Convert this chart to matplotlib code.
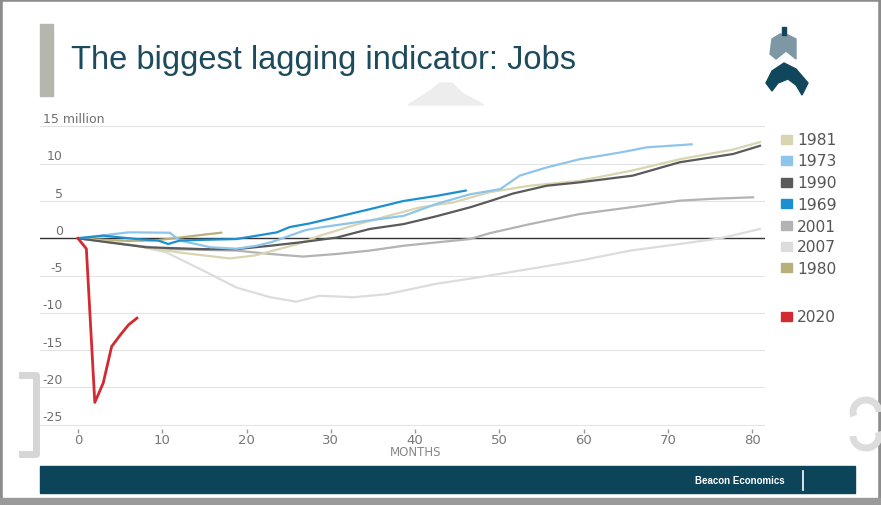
import numpy as np
import matplotlib.pyplot as plt
from matplotlib.patches import Rectangle, Polygon, Arc

# months since the start of each recession, change in payrolls (millions)
m1981 = [0, 4, 8, 12, 15, 18, 21, 24, 26, 28.7, 32.6, 36.6, 40.6, 44.5, 48.9, 53.6, 59.5, 65.8, 71.4, 77.7, 80.9]
v1981 = [0, -0.5, -1.2, -1.9, -2.3, -2.7, -2.3, -1.4, -0.8, 0.35, 1.7, 2.95, 4.15, 4.8, 6.2, 7.05, 7.7, 9.1, 10.6, 11.9, 12.9]

m1973 = [0, 3, 6, 10.9, 12.1, 15.7, 18.8, 21.2, 23, 25, 27, 29, 34.6, 38.6, 42.5, 46.5, 50.1, 52.4, 55.6, 59.5, 64.3, 67.5, 72.8]
v1973 = [0, 0.4, 0.8, 0.75, -0.3, -1.2, -1.4, -1.0, -0.5, 0.3, 1.1, 1.5, 2.4, 3.0, 4.6, 5.9, 6.6, 8.4, 9.5, 10.6, 11.5, 12.2, 12.6]

m1990 = [0, 4, 8.1, 14.9, 18.8, 22.8, 26.7, 30.7, 34.6, 38.6, 42.5, 46.5, 48.9, 51.6, 55.6, 59.5, 65.8, 71.4, 77.7, 80.9]
v1990 = [0, -0.6, -1.2, -1.45, -1.45, -1.0, -0.5, 0.1, 1.25, 1.9, 2.95, 4.15, 5.0, 6.0, 7.05, 7.5, 8.4, 10.2, 11.3, 12.4]

m1969 = [0, 3, 7, 9.5, 10.7, 12.1, 14.9, 18.8, 21.2, 23.6, 25.1, 27.5, 30.7, 34.6, 38.6, 42.6, 46.0]
v1969 = [0, 0.35, -0.1, -0.3, -0.76, -0.3, -0.2, -0.1, 0.35, 0.8, 1.5, 2.0, 2.85, 3.9, 5.0, 5.7, 6.4]

m2001 = [0, 3, 7, 10.9, 18.8, 22.8, 26.7, 30.7, 34.6, 38.6, 42.5, 46.5, 48.9, 53.6, 59.5, 65.5, 71.4, 75.3, 80.1]
v2001 = [0, -0.4, -1.0, -1.45, -1.65, -2.1, -2.45, -2.1, -1.65, -1.0, -0.55, -0.1, 0.7, 1.9, 3.25, 4.15, 5.05, 5.3, 5.5]

m2007 = [0, 3, 7, 10.5, 14.9, 18.8, 22.8, 25.9, 28.7, 32.6, 36.6, 42.5, 47.7, 53.6, 59.5, 65.5, 71.4, 76.2, 80.9]
v2007 = [0, -0.4, -1.0, -1.9, -4.35, -6.6, -7.9, -8.5, -7.7, -7.9, -7.5, -6.1, -5.2, -4.1, -3.0, -1.65, -0.76, 0.0, 1.25]

m1980 = [0, 3, 6, 9, 12.1, 15, 17]
v1980 = [0, -0.2, -0.35, -0.3, 0.1, 0.5, 0.75]

m2020 = [0, 1, 2, 3, 4, 5, 6, 7]
v2020 = [0, -1.4, -22.0, -19.4, -14.5, -13.0, -11.6, -10.7]

labels = ['1981', '1973', '1990', '1969', '2001', '2007', '1980', '2020']
colors = ['#d9d5b0', '#8ec5ea', '#5a5a5a', '#1b8fd0', '#b3b3b3', '#dcdcdc', '#b8b07a', '#d32a32']
series = [(m1981, v1981), (m1973, v1973), (m1990, v1990), (m1969, v1969),
          (m2001, v2001), (m2007, v2007), (m1980, v1980), (m2020, v2020)]
yticks = [15, 10, 5, 0, -5, -10, -15, -20, -25]
xticks = [0, 10, 20, 30, 40, 50, 60, 70, 80]

W, H = 881, 506
fig = plt.figure(figsize=(W / 100, H / 100), dpi=100)
plt.rcParams['font.family'] = ['Liberation Sans', 'DejaVu Sans']

def px(x, y):
    # pixel position -> figure fraction
    return x / W, 1 - y / H

# slide frame
fig.patches.append(Rectangle((0, 0), 1, 1, transform=fig.transFigure, fill=False,
                             edgecolor='#8c8c8c', linewidth=4))
fig.patches.append(Rectangle(px(0, 506), 1, 7 / H, transform=fig.transFigure,
                             color='#9a9a9a'))

# title block
fig.patches.append(Rectangle(px(40, 97), 13 / W, 72 / H, transform=fig.transFigure,
                             color='#b6b6ae'))
fig.text(*px(71, 61), 'The biggest lagging indicator: Jobs', fontsize=23.5,
         color='#1d4b5d', va='center', ha='left')

# logo
logo_top = [(770, 55), (772, 40), (780, 35), (788, 36), (796, 40), (796, 60), (786, 52), (776, 60)]
logo_bot = [(766, 84), (772, 72), (784, 64), (796, 70), (808, 84), (802, 96), (796, 86), (788, 80), (778, 84), (772, 92)]
for pts, c in [(logo_top, '#7d98a4'), (logo_bot, '#10475c')]:
    fig.patches.append(Polygon([px(x, y) for x, y in pts], closed=True,
                               transform=fig.transFigure, color=c))
fig.patches.append(Rectangle(px(782, 36), 4 / W, 8 / H, transform=fig.transFigure, color='#10475c'))

# faint background marks
fig.patches.append(Polygon([px(x, y) for x, y in [(408, 106), (430, 92), (440, 84), (452, 84), (462, 94), (484, 106)]],
                           closed=True, transform=fig.transFigure, color='#ededed', zorder=0))
xs, ys = zip(*[px(x, y) for x, y in [(22, 376), (36, 376), (36, 455), (22, 455)]])
fig.add_artist(plt.Line2D(xs, ys, transform=fig.transFigure, color='#d6d6d6', linewidth=5))
# partial letter at the right edge
fig.patches.append(Arc(px(866, 413), 26 / W, 24 / H, theta1=0, theta2=210,
                       transform=fig.transFigure, color='#dcdcdc', linewidth=5))
fig.patches.append(Arc(px(866, 437), 26 / W, 24 / H, theta1=180, theta2=390,
                       transform=fig.transFigure, color='#dcdcdc', linewidth=5))

# chart
ax = fig.add_axes([40 / W, 1 - 429.5 / H, 725 / W, 305.8 / H])
ax.set_xlim(-4.5, 81.5)
ax.set_ylim(-25.5, 15.5)
for s in ax.spines.values():
    s.set_visible(False)
ax.set_yticks([])
ax.set_xticks(xticks)
ax.set_xticklabels([str(t) for t in xticks], color='#777777', fontsize=9.5,
                   family=['DejaVu Sans'])
ax.tick_params(axis='x', length=3, width=1, color='#999999', pad=0.5)

for t in yticks:
    if t == 0:
        ax.axhline(0, color='#333333', linewidth=1.0, zorder=3)
    else:
        ax.axhline(t, color='#e3e3e3', linewidth=0.8, zorder=1)
    if t == 15:
        ax.text(-4.2, t + 0.2, '15 million', fontsize=9, color='#6f6f6f', ha='left',
                va='bottom', family=['DejaVu Sans'])
    else:
        ax.text(-1.8, t + 0.2, str(t), fontsize=9, color='#6f6f6f', ha='right',
                va='bottom', family=['DejaVu Sans'])

ax.text(40, -28.6, 'MONTHS', fontsize=8.5, color='#888888', ha='center', va='center',
        family=['DejaVu Sans'])

order = [5, 4, 6, 0, 2, 1, 3, 7]
for i in order:
    m, v = series[i]
    ax.plot(m, v, color=colors[i], linewidth=1.6 if i != 7 else 2.0, zorder=4 + order.index(i))

# legend
leg_y = [140, 161, 183, 204, 226, 247, 268, 317]
for lab, c, y in zip(labels, colors, leg_y):
    fig.patches.append(Rectangle(px(781, y + 5), 11 / W, 9 / H, transform=fig.transFigure, color=c))
    fig.text(*px(797, y + 1), lab, fontsize=11.2, color='#555555', va='center', ha='left',
             family=['DejaVu Sans'])

# footer band
fig.patches.append(Rectangle(px(40, 494), 815 / W, 27 / H, transform=fig.transFigure,
                             color='#0c4459'))
fig.text(*px(740, 481), 'Beacon Economics', fontsize=7, color='white', fontweight='bold',
         ha='center', va='center')
fig.add_artist(plt.Line2D([803 / W, 803 / W], [1 - 491 / H, 1 - 472 / H],
                          transform=fig.transFigure, color='white', linewidth=1.2))

fig.savefig('out.png', dpi=100)
